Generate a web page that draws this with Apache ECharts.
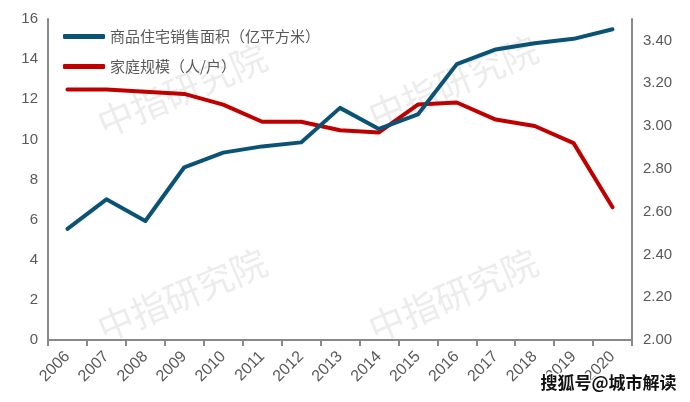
<!DOCTYPE html>
<html><head><meta charset="utf-8">
<script src="https://cdn.jsdelivr.net/npm/echarts@6/dist/echarts.min.js"></script>
<style>html,body{margin:0;padding:0;background:#fff}#c{width:690px;height:402px}</style>
</head><body><div id="c"></div>
<script>
const years = ['2006','2007','2008','2009','2010','2011','2012','2013','2014','2015','2016','2017','2018','2019','2020'];
const salesArea = [5.54,7.01,5.93,8.61,9.34,9.65,9.85,11.57,10.52,11.24,13.75,14.48,14.79,15.01,15.49];
const householdSize = [3.17,3.17,3.16,3.15,3.10,3.02,3.02,2.98,2.97,3.10,3.11,3.03,3.00,2.92,2.62];
const seriesNames = ['商品住宅销售面积（亿平方米）','家庭规模（人/户）'];
const leftTicks = {min:0,max:16,interval:2};
const rightTicks = {min:2,max:3.5,interval:0.2};

const chart = echarts.init(document.getElementById('c'));
const wm = (x,y) => ({type:'text', x:x, y:y, rotation: 23*Math.PI/180, style:{text:'中指研究院', fill:'rgba(200,200,200,0.35)', font:'36px "Noto Sans CJK SC"', align:'center', verticalAlign:'middle'}, z:0, silent:true});
chart.setOption({
  animation:false,
  textStyle:{fontFamily:'"Liberation Sans", Arial, "Noto Sans CJK SC"'},
  grid:{left:48,right:58,top:19,bottom:62},
  legend:{
    orient:'vertical', left:58, top:24, itemWidth:42, itemHeight:5, itemGap:15,
    icon:'roundRect',
    textStyle:{color:'#595959', fontSize:15, fontFamily:'"Noto Sans CJK SC"'},
    data:seriesNames
  },
  xAxis:{
    type:'category', data:years, boundaryGap:true,
    axisLine:{lineStyle:{color:'#898989', width:2}},
    axisTick:{show:true, length:6, lineStyle:{color:'#898989', width:2}},
    axisLabel:{rotate:45, color:'#595959', fontSize:16, margin:14, interval:0}
  },
  yAxis:[
    {type:'value', min:leftTicks.min, max:leftTicks.max, interval:leftTicks.interval,
     axisLine:{show:true, lineStyle:{color:'#898989', width:2}}, axisTick:{show:false}, splitLine:{show:false},
     axisLabel:{color:'#595959', fontSize:15, margin:10}},
    {type:'value', min:rightTicks.min, max:rightTicks.max, interval:rightTicks.interval, position:'right',
     axisLine:{show:true, lineStyle:{color:'#898989', width:2}}, axisTick:{show:false}, splitLine:{show:false},
     axisLabel:{color:'#595959', fontSize:15, margin:11, showMaxLabel:false, formatter:v=>v.toFixed(2)}}
  ],
  series:[
    {name:seriesNames[0], type:'line', data:salesArea, yAxisIndex:0, symbol:'none', z:3,
     lineStyle:{color:'#0b5374', width:4, cap:'round', join:'round'}, itemStyle:{color:'#0b5374'}},
    {name:seriesNames[1], type:'line', data:householdSize, yAxisIndex:1, symbol:'none', z:2,
     lineStyle:{color:'#c00000', width:4, cap:'round', join:'round'}, itemStyle:{color:'#c00000'}}
  ],
  graphic:[
    wm(182,90), wm(453,82), wm(182,295), wm(453,295),
    {type:'text', right:12, top:373, z:100, style:{text:'搜狐号@城市解读', fill:'#111', stroke:'#fff', lineWidth:3, font:'bold 17px "Noto Sans CJK SC"'}}
  ]
});
</script></body></html>
